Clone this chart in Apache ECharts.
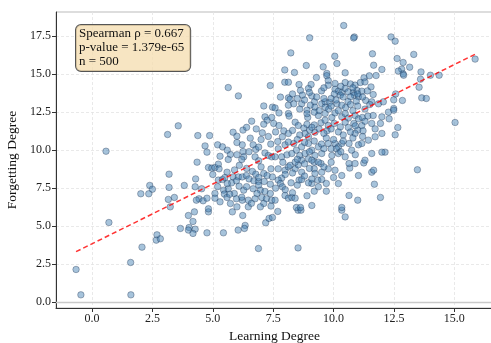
<!DOCTYPE html>
<html><head><meta charset="utf-8">
<script src="https://cdn.jsdelivr.net/npm/echarts@6/dist/echarts.min.js"></script>
<style>html,body{margin:0;padding:0;background:#fff}#c{width:491px;height:343px}</style>
</head><body><div id="c"></div>
<script>
const learningDegree = [
5.64,6.06,7.38,7.11,7.47,
10.42,9.01,10.86,10.83,8.23,11.61,10.05,10.14,8.87,9.57,11.66,7.98,12.0,8.38,10.48,9.72,9.72,9.29,11.76,11.48,7.98,8.13,11.26,8.57,9.07,9.78,9.78,10.06,10.48,10.7,10.89,11.11,11.3,11.55,8.96,8.63,8.13,8.2,7.8,8.71,9.1,9.21,
10.06,10.2,10.34,10.03,10.28,10.48,10.61,10.82,10.97,11.17,10.86,10.7,11.03,11.64,11.33,10.94,11.58,11.86,12.06,
7.58,8.13,8.35,8.68,9.04,9.23,9.51,9.65,9.84,10.14,9.65,10.34,
12.38,12.55,13.32,12.63,12.88,13.15,12.82,12.68,12.88,12.9,13.62,15.86,13.6,14.01,14.37,13.54,12.57,13.65,13.84,12.49,12.85,12.49,
12.27,12.3,12.66,12.55,15.03,12.13,13.47,12.49,
0.58,2.39,2.5,2.02,2.35,
0.7,2.69,2.66,2.83,2.07,1.6,-0.66,-0.46,1.61,
3.99,4.24,4.18,3.66,4.02,3.99,4.27,4.18,4.76,4.82,5.44,5.81,6.24,6.34,6.31,6.05,6.89,7.19,7.33,7.47,
7.69,8.53,8.65,10.34,10.48,8.53,
3.57,3.13,4.38,4.87,4.68,4.76,5.2,5.4,5.84,6.0,6.25,6.61,7.16,7.25,7.11,7.44,7.52,7.05,6.55,6.22,6.67,6.78,5.73,5.64,6.25,6.28,6.2,6.75,7.16,7.3,7.44,4.35,3.19,4.82,4.96,5.09,5.23,5.26,5.59,5.84,6.06,5.23,5.4,5.78,5.98,6.09,6.22,6.39,6.64,6.78,6.5,6.7,6.89,7.11,7.25,7.41,7.47,7.13,7.38,6.97,7.16,7.38,7.03,7.22,7.44,7.11,7.41,3.19,3.41,3.82,4.29,4.27,4.54,4.43,4.32,4.6,4.76,4.82,5.09,5.09,5.45,5.48,5.64,5.59,5.73,5.89,5.98,6.0,6.22,6.28,6.47,6.47,6.67,6.83,6.75,6.97,3.16,3.24,
7.74,8.13,8.16,8.93,8.9,9.37,9.65,9.93,10.06,10.34,10.48,10.61,10.89,11.03,11.19,11.42,11.64,7.74,7.94,8.13,7.88,7.69,7.71,7.99,8.13,
8.41,8.54,8.77,8.82,9.01,8.96,9.23,9.2,9.48,9.65,9.78,9.73,10.03,10.28,10.48,10.61,10.84,11.0,10.89,11.17,11.22,11.58,11.72,12.0,11.94,
8.35,8.46,8.68,8.96,9.1,9.23,9.2,9.37,9.51,9.78,10.06,10.2,10.34,10.12,9.9,10.64,11.03,10.48,11.25,12.0,11.58,11.66,11.69,11.94,10.67,9.48,9.2,9.51,9.35,9.51,9.7,9.1,8.96,10.64,11.0,10.34,9.1,8.46,8.63,7.99,8.13,8.27,8.41,7.58,8.57,8.68,8.24,7.85,7.71,7.8,7.88,7.71,7.99,8.13,8.41,8.54,8.68,7.58,7.85,8.07,8.27,8.6,8.68,8.96,8.41,8.82,9.1,9.37,9.23,9.37,9.78,10.06,10.34,10.64,10.89,11.03,11.3,9.93,10.2,10.75,11.17,11.44,11.72,12.0,11.58,
8.3,8.5,8.8,9.0,9.3,9.5,9.6,9.9,10.1,10.4,10.6,10.8,11.0,11.2,11.4,9.4,9.8,10.2,10.5,10.8,11.0,11.3,8.6,8.9,9.2,9.9,10.7,11.5,9.6,10.3,
8.3,8.6,8.9,9.1,9.4,9.6,9.9,10.2,10.4,10.7,10.9,11.3,8.5,8.8,9.2,9.5,9.7,10.0,10.4,10.8,11.2,9.0,9.6,10.3,10.9,
7.9,8.2,8.5,8.8,9.0,8.3,8.0,8.8,9.1,9.6,9.9,8.5,8.0,8.3,9.2,7.6,8.9,9.7,10.2,10.0,
5.3,5.6,6.0,6.5,6.9,7.0,6.1,5.9,6.4,5.0,5.5,6.9,5.2,5.6,6.4,6.9,5.3,5.7,6.2,6.6,
6.4,6.8,7.0,7.3,7.4,6.9,7.6,6.0
];
const forgettingDegree = [
14.12,13.57,14.25,12.91,12.83,
18.2,17.39,17.45,17.38,16.4,16.34,16.18,15.7,15.57,15.48,15.59,15.28,15.31,15.11,15.09,15.05,14.9,14.78,14.91,14.89,14.47,14.47,14.76,14.32,14.32,14.58,14.27,14.39,14.45,14.36,14.28,14.45,14.49,14.16,14.06,13.93,13.44,13.35,13.49,13.62,13.57,13.18,
14.01,13.88,13.8,13.7,13.62,14.06,13.84,13.8,13.93,13.88,13.62,13.51,13.51,13.66,13.27,13.22,13.18,13.05,13.18,
12.78,12.96,13.05,13.05,12.96,12.83,13.05,13.18,13.14,13.05,12.83,12.96,
17.45,17.17,16.3,16.03,15.77,15.46,15.33,15.2,15.02,14.93,15.15,15.99,14.67,14.93,14.93,14.14,13.7,13.44,13.4,13.31,13.27,12.74,
12.5,12.06,11.49,11.01,11.82,9.87,8.71,12.63,
9.93,7.68,7.43,7.13,7.13,
5.24,4.43,4.08,4.17,3.62,2.61,2.15,0.48,0.48,
5.7,5.94,5.31,4.85,4.91,4.74,4.8,4.52,4.56,5.94,4.56,5.94,5.7,5.05,4.85,4.74,3.53,5.22,5.51,5.57,
5.97,6.05,6.05,6.05,5.61,3.57,
11.6,11.03,10.96,10.96,10.28,9.87,10.35,10.22,11.18,10.92,11.32,11.91,12.19,11.97,11.71,12.15,11.76,11.14,10.79,10.35,10.35,10.05,9.72,9.39,9.91,9.56,9.39,9.56,9.82,9.65,9.56,9.21,8.42,8.86,8.82,8.86,9.08,8.77,8.55,8.24,8.24,8.03,8.07,7.85,7.98,7.63,8.24,8.33,8.6,8.42,8.11,7.98,7.94,8.47,8.33,8.77,8.24,7.94,7.76,7.37,7.28,7.15,6.89,6.8,6.71,6.49,6.32,7.55,6.89,7.68,8.11,7.59,7.46,6.8,6.71,6.67,6.84,6.14,7.15,6.84,7.37,7.11,7.46,6.89,6.49,7.15,6.8,6.27,6.71,7.37,6.71,6.27,7.46,7.15,6.8,6.27,6.76,6.27,
12.45,12.41,12.24,12.15,12.63,12.28,12.41,12.15,12.45,12.19,12.41,12.11,12.28,12.06,12.15,12.24,12.28,11.62,11.27,11.1,10.88,10.57,10.09,10.35,10.53,
11.84,11.62,11.45,11.1,11.32,10.88,11.18,11.66,11.8,11.97,11.62,11.27,11.76,11.53,11.84,11.49,11.76,11.32,11.1,11.62,11.27,11.76,11.4,12.19,11.76,
10.44,10.0,10.22,10.44,10.0,9.65,9.21,10.22,9.78,10.44,10.44,10.22,10.44,10.09,10.09,10.44,10.35,9.56,9.16,9.87,8.55,8.68,7.76,6.89,8.82,9.12,8.77,8.55,8.03,8.07,7.81,7.81,7.85,7.02,6.71,6.23,6.36,6.23,6.23,7.02,6.84,6.89,6.84,6.71,8.03,8.07,7.85,8.16,8.03,7.81,7.59,8.77,8.68,8.9,8.77,9.03,8.55,9.56,9.56,9.69,9.78,9.65,9.34,9.43,9.21,9.78,9.34,9.21,8.47,7.59,8.77,8.68,8.33,9.12,9.12,8.33,9.34,9.65,9.78,10.0,10.44,10.66,10.88,11.1,9.78,
13.7,13.4,13.3,13.8,13.5,13.9,14.1,13.4,13.3,13.5,13.2,14.1,13.7,13.5,13.9,12.6,12.7,12.6,12.8,12.6,12.9,12.7,12.7,12.4,12.5,12.9,13.0,13.0,13.4,14.2,
11.3,11.0,11.7,11.5,11.4,11.1,11.4,11.2,11.0,11.2,11.6,11.9,10.7,10.5,10.6,10.4,10.8,10.7,10.6,10.8,10.9,9.9,10.1,9.9,9.7,
9.2,9.0,9.4,9.1,8.8,8.5,8.4,8.3,8.1,8.9,9.2,7.7,7.4,7.2,7.3,7.5,7.0,7.3,7.8,8.2,
9.6,10.0,9.7,9.9,9.3,8.9,9.0,8.7,8.8,8.4,8.2,8.2,7.6,7.8,7.6,7.7,6.6,7.1,6.9,6.5,
11.5,11.4,10.7,10.9,10.4,10.2,11.2,10.5
];
const trendX = [-0.66, 15.86];
const trendY = [3.32, 16.31];
const xTicks = [0, 2.5, 5, 7.5, 10, 12.5, 15];
const yTicks = [0, 2.5, 5, 7.5, 10, 12.5, 15, 17.5];
const statsLines = ['Spearman \u03c1 = 0.667', 'p-value = 1.379e-65', 'n = 500'];

const serif = '"Liberation Serif", "Times New Roman", serif';
const points = learningDegree.map((x, i) => [x, forgettingDegree[i]]);
const chart = echarts.init(document.getElementById('c'), null, {renderer: 'canvas'});
const axisCommon = {
  type: 'value',
  axisLine: {show: true, onZero: false, lineStyle: {color: '#333', width: 1}},
  axisTick: {show: true, inside: false, length: 4, lineStyle: {color: '#333'}},
  axisLabel: {fontFamily: serif, fontSize: 12, color: '#222', formatter: v => v.toFixed(1)},
  splitLine: {show: true, lineStyle: {color: '#e3e3e3', type: [3, 2], width: 0.8}},
  nameLocation: 'middle',
  nameTextStyle: {fontFamily: serif, fontSize: 13.5, color: '#111'}
};
chart.setOption({
  animation: false,
  grid: {left: 56, right: -2, top: 12, bottom: 35, show: true, borderColor: '#bbb', borderWidth: 1,
         containLabel: false, outerBoundsMode: 'none'},
  xAxis: Object.assign({}, axisCommon, {
    min: -1.49, max: 16.6, name: 'Learning Degree', nameGap: 21,
    axisTick: Object.assign({}, axisCommon.axisTick, {customValues: xTicks}),
    axisLabel: Object.assign({}, axisCommon.axisLabel, {customValues: xTicks, margin: 5})
  }),
  yAxis: Object.assign({}, axisCommon, {
    min: -0.385, max: 19.09, name: 'Forgetting Degree', nameGap: 36,
    axisTick: Object.assign({}, axisCommon.axisTick, {customValues: yTicks}),
    axisLabel: Object.assign({}, axisCommon.axisLabel, {customValues: yTicks, margin: 5})
  }),
  graphic: [{
    type: 'text', left: 75, top: 24, z: 100,
    style: {
      text: statsLines.join('\n'), font: '13px ' + serif, fill: '#111', lineHeight: 14,
      backgroundColor: 'rgba(245,222,179,0.8)', borderColor: '#555', borderWidth: 1,
      borderRadius: 5, padding: [2, 6, 2, 3]
    }
  }],
  series: [{
    type: 'scatter', data: points, symbolSize: 6.5,
    itemStyle: {color: 'rgba(70,130,180,0.6)', borderColor: 'rgba(20,40,70,0.7)', borderWidth: 0.6}
  }, {
    type: 'line', data: trendX.map((x, i) => [x, trendY[i]]), symbol: 'none', z: 5,
    lineStyle: {color: 'rgba(255,0,0,0.8)', width: 1.5, type: [5, 3]},
    markLine: {silent: true, symbol: 'none', label: {show: false},
      lineStyle: {color: '#c9c9c9', type: 'solid', width: 1.3}, data: [{yAxis: 0}]}
  }]
});
</script></body></html>
